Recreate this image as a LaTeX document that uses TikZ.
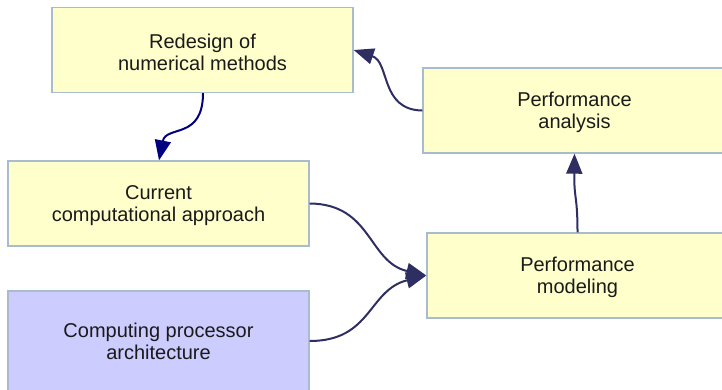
\documentclass[tikz,border=0pt]{standalone}
\usepackage{fontspec}
\setmainfont{Liberation Sans}
\usetikzlibrary{arrows.meta}
\definecolor{boxfill}{HTML}{FFFFCC}
\definecolor{archfill}{HTML}{CCCCFF}
\definecolor{boxline}{HTML}{A9BBCF}
\definecolor{navyline}{HTML}{000080}
\definecolor{slateline}{HTML}{2E2E63}
\definecolor{textcol}{HTML}{1A1A1A}
\tikzset{
  stage/.style={draw=boxline, line width=1.4pt, fill=boxfill, rectangle,
    minimum width=301pt, minimum height=85pt, inner sep=0pt},
  caption/.style={align=center, text=textcol, inner sep=0pt,
    font=\fontsize{20}{22}\selectfont, yshift=-2pt},
  flow/.style={line width=2pt, draw=slateline,
    -{Triangle[length=20pt,width=16pt]}},
}
\begin{document}
\begin{tikzpicture}[x=1pt, y=-1pt]
  \useasboundingbox (0,0) rectangle (722,389);
  \begin{scope}
    \clip (0,0) rectangle (722,389);
    \node[stage, label={[caption]center:{Redesign of\\numerical methods}}]
      (redesign) at (202.5,50) {};
    \node[stage, minimum width=303pt, label={[caption]center:{Performance\\analysis}}]
      (analysis) at (574.5,110.5) {};
    \node[stage, label={[caption]center:{Current\\computational approach}}]
      (current) at (158.5,203.5) {};
    \node[stage, label={[caption]center:{Performance\\modeling}}]
      (modeling) at (577.5,275.5) {};
    \node[stage, fill=archfill, minimum height=100pt,
      label={[caption, yshift=2pt]center:{Computing processor\\architecture}}]
      (arch) at (158.5,341) {};
  \end{scope}
  % feedback loop between the stages
  \draw[flow, draw=navyline]
    ([xshift=0.5pt]redesign.south) .. controls (203,140) and (166,125) .. ([xshift=0.5pt]current.north);
  \draw[flow]
    (analysis.west) .. controls (380,110) and (390,62) .. (redesign.east);
  \draw[flow]
    (current.east) .. controls (372,204) and (368,262) .. (modeling.west);
  \draw[flow]
    (arch.east) .. controls (372,341) and (368,290) .. (modeling.west);
  \draw[flow]
    (modeling.north) .. controls (577.5,195) and (574,200) .. (analysis.south);
\end{tikzpicture}
\end{document}
